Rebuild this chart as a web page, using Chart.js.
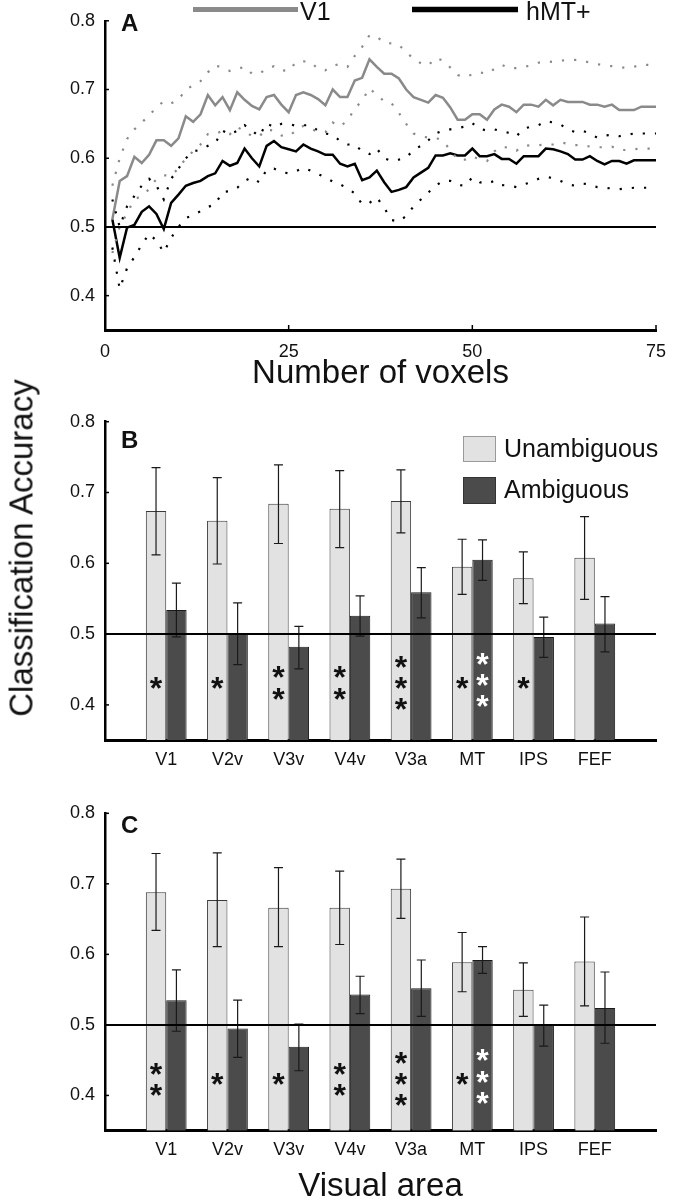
<!DOCTYPE html>
<html><head><meta charset="utf-8">
<script src="https://cdn.jsdelivr.net/npm/chart.js@4.4.1/dist/chart.umd.min.js"></script>
<style>
html,body{margin:0;padding:0;background:#fff;}
body{width:682px;height:1200px;position:relative;overflow:hidden;font-family:"Liberation Sans",Arial,sans-serif;}
canvas{position:absolute;left:0;}
#ytitle{position:absolute;left:21px;top:548px;transform:translate(-50%,-50%) rotate(-90deg);font-size:33px;white-space:nowrap;color:#111;line-height:1;}
</style></head><body>
<canvas id="ca" width="682" height="400" style="top:0px"></canvas>
<canvas id="cb" width="682" height="380" style="top:400px"></canvas>
<canvas id="cc" width="682" height="430" style="top:780px"></canvas>
<div id="ytitle">Classification Accuracy</div>
<script>
// ---------- Panel A data ----------
const voxels = [1,2,3,4,5,6,7,8,9,10,11,12,13,14,15,16,17,18,19,20,21,22,23,24,25,26,27,28,29,30,31,32,33,34,35,36,37,38,39,40,41,42,43,44,45,46,47,48,49,50,51,52,53,54,55,56,57,58,59,60,61,62,63,64,65,66,67,68,69,70,71,72,73,74,75];
const v1Mean = [0.511,0.567,0.574,0.602,0.593,0.605,0.626,0.626,0.618,0.629,
 0.661,0.653,0.664,0.692,0.677,0.689,0.670,0.696,0.685,0.676,
 0.671,0.689,0.692,0.678,0.667,0.692,0.696,0.692,0.686,0.677,
 0.700,0.689,0.689,0.713,0.717,0.744,0.733,0.723,0.723,0.716,
 0.700,0.689,0.685,0.681,0.692,0.688,0.674,0.656,0.656,0.664,
 0.664,0.656,0.671,0.678,0.675,0.667,0.678,0.678,0.675,0.685,
 0.677,0.685,0.682,0.682,0.682,0.678,0.678,0.675,0.678,0.670,
 0.670,0.670,0.675,0.675,0.675];
const v1Upper = [0.560,0.600,0.628,0.642,0.652,0.662,0.674,0.683,0.680,0.685,
 0.700,0.706,0.712,0.725,0.735,0.732,0.727,0.730,0.733,0.723,
 0.723,0.730,0.734,0.728,0.727,0.740,0.741,0.740,0.730,0.728,
 0.735,0.737,0.733,0.749,0.762,0.779,0.777,0.768,0.767,0.765,
 0.754,0.745,0.738,0.735,0.746,0.742,0.732,0.721,0.718,0.722,
 0.725,0.723,0.730,0.736,0.731,0.731,0.733,0.735,0.739,0.741,
 0.740,0.742,0.743,0.743,0.742,0.739,0.737,0.735,0.734,0.733,
 0.731,0.733,0.736,0.736,0.736];
const v1Lower = [0.462,0.500,0.520,0.540,0.545,0.555,0.570,0.575,0.575,0.585,
 0.600,0.610,0.620,0.635,0.635,0.640,0.635,0.645,0.640,0.632,
 0.632,0.642,0.640,0.633,0.632,0.640,0.647,0.643,0.638,0.638,
 0.652,0.646,0.655,0.672,0.684,0.702,0.692,0.683,0.680,0.666,
 0.650,0.636,0.632,0.630,0.630,0.625,0.612,0.598,0.598,0.603,
 0.598,0.596,0.610,0.617,0.615,0.611,0.618,0.619,0.619,0.620,
 0.620,0.623,0.621,0.619,0.619,0.617,0.616,0.616,0.617,0.612,
 0.612,0.613,0.614,0.614,0.614];
const mtMean = [0.511,0.455,0.499,0.503,0.522,0.530,0.519,0.497,0.535,0.547,
 0.560,0.564,0.567,0.574,0.578,0.596,0.589,0.593,0.614,0.600,
 0.588,0.618,0.625,0.616,0.613,0.610,0.620,0.614,0.610,0.605,
 0.605,0.592,0.588,0.592,0.568,0.572,0.582,0.565,0.551,0.554,
 0.558,0.572,0.579,0.586,0.604,0.604,0.607,0.604,0.604,0.614,
 0.603,0.603,0.606,0.599,0.599,0.592,0.603,0.603,0.603,0.614,
 0.613,0.610,0.606,0.598,0.598,0.603,0.596,0.591,0.596,0.596,
 0.592,0.597,0.597,0.597,0.597];
const mtUpper = [0.540,0.500,0.530,0.545,0.560,0.570,0.560,0.540,0.570,0.585,
 0.600,0.610,0.612,0.618,0.622,0.640,0.635,0.640,0.648,0.640,
 0.632,0.651,0.645,0.650,0.650,0.647,0.648,0.648,0.640,0.636,
 0.634,0.625,0.620,0.620,0.610,0.606,0.614,0.600,0.596,0.598,
 0.601,0.612,0.618,0.626,0.636,0.640,0.642,0.644,0.646,0.651,
 0.643,0.640,0.642,0.639,0.637,0.632,0.643,0.646,0.648,0.654,
 0.652,0.649,0.642,0.638,0.640,0.636,0.630,0.633,0.634,0.632,
 0.634,0.636,0.636,0.636,0.636];
const mtLower = [0.470,0.410,0.440,0.456,0.474,0.490,0.480,0.463,0.484,0.500,
 0.513,0.517,0.523,0.529,0.533,0.551,0.552,0.557,0.567,0.572,
 0.565,0.583,0.585,0.580,0.578,0.581,0.586,0.582,0.577,0.572,
 0.566,0.562,0.556,0.549,0.533,0.535,0.543,0.528,0.510,0.508,
 0.516,0.530,0.540,0.550,0.560,0.567,0.567,0.561,0.560,0.572,
 0.565,0.563,0.567,0.561,0.560,0.558,0.562,0.565,0.570,0.573,
 0.571,0.567,0.562,0.560,0.563,0.562,0.558,0.557,0.556,0.555,
 0.556,0.557,0.557,0.557,0.557];
const xTicksA = [0, 25, 50, 75];
const yTicks = [0.4, 0.5, 0.6, 0.7, 0.8];
const chanceLevel = 0.5;

// ---------- Panels B & C data ----------
const areas = ['V1','V2v','V3v','V4v','V3a','MT','IPS','FEF'];
const unambB   = [0.674,0.660,0.684,0.677,0.688,0.595,0.579,0.608];
const unambBHi = [0.735,0.721,0.739,0.731,0.732,0.634,0.616,0.666];
const unambBLo = [0.612,0.599,0.628,0.622,0.643,0.556,0.543,0.549];
const ambB     = [0.534,0.501,0.482,0.526,0.559,0.605,0.496,0.515];
const ambBHi   = [0.572,0.544,0.511,0.554,0.594,0.633,0.524,0.553];
const ambBLo   = [0.496,0.457,0.451,0.497,0.523,0.576,0.467,0.475];
const starsUnambB = [1,1,2,2,3,1,1,0];
const starsAmbB   = [0,0,0,0,0,3,0,0];

const unambC   = [0.688,0.677,0.666,0.666,0.693,0.589,0.550,0.590];
const unambCHi = [0.743,0.744,0.723,0.718,0.735,0.631,0.588,0.653];
const unambCLo = [0.634,0.611,0.611,0.614,0.651,0.547,0.512,0.527];
const ambC     = [0.535,0.495,0.469,0.543,0.552,0.592,0.500,0.524];
const ambCHi   = [0.578,0.535,0.501,0.569,0.592,0.611,0.528,0.575];
const ambCLo   = [0.491,0.454,0.435,0.516,0.512,0.573,0.470,0.474];
const starsUnambC = [2,1,1,2,3,1,0,0];
const starsAmbC   = [0,0,0,0,0,3,0,0];

// ---------- styling ----------
const FONT = '"Liberation Sans", Arial, sans-serif';
Chart.defaults.font.family = FONT;
Chart.defaults.color = '#111';
const GRAY = '#8a8a8a';
const LIGHT = '#e2e2e2';
const DARK = '#4b4b4b';
const TICK_SIZE = 18;

function pairs(xs, ys){ return xs.map((x,i)=>({x:x, y:ys[i]})); }
function padded(arr){ return [null].concat(arr, [null]); }

function yScale(width){
  return {
    min:0.35, max:0.8,
    afterBuildTicks:s=>{ s.ticks = yTicks.map(v=>({value:v})); },
    afterFit:s=>{ s.width = width; },
    grid:{display:false, drawTicks:false, tickLength:0},
    border:{display:true, color:'#000', width:2.5},
    ticks:{padding:10, font:{size:TICK_SIZE}, color:'#111', callback:v=>Number(v).toFixed(1)}
  };
}

function axisDecor(opts){
  return {
    id:'axisDecor',
    afterDraw(chart){
      const ctx = chart.ctx, a = chart.chartArea, ys = chart.scales.y, xs = chart.scales.x;
      ctx.save();
      ctx.strokeStyle = '#000'; ctx.lineWidth = 2;
      const yr = ys.getPixelForValue(chanceLevel);
      ctx.beginPath(); ctx.moveTo(a.left, yr); ctx.lineTo(a.right, yr); ctx.stroke();
      ctx.lineWidth = 1.5;
      yTicks.forEach(v=>{ const y = ys.getPixelForValue(v); ctx.beginPath(); ctx.moveTo(a.left, y); ctx.lineTo(a.left+4, y); ctx.stroke(); });
      if (opts.xTicks){
        opts.xTicks.forEach(v=>{ if (v===0) return; const x = xs.getPixelForValue(v); ctx.beginPath(); ctx.moveTo(x, a.bottom); ctx.lineTo(x, a.bottom-5); ctx.stroke(); });
      }
      ctx.fillStyle = '#111'; ctx.font = 'bold 24px ' + FONT; ctx.textBaseline = 'alphabetic'; ctx.textAlign = 'left';
      ctx.fillText(opts.letter, opts.letterX, opts.letterY);
      if (opts.lineLegend){
        opts.lineLegend.forEach(it=>{
          const ds = chart.data.datasets[it.ds];
          ctx.strokeStyle = ds.borderColor; ctx.lineWidth = it.w;
          ctx.beginPath(); ctx.moveTo(it.x0, it.y); ctx.lineTo(it.x1, it.y); ctx.stroke();
          ctx.fillStyle = '#111'; ctx.font = '25px ' + FONT;
          ctx.fillText(ds.label, it.tx, it.ty);
        });
      }
      if (opts.boxLegend){
        opts.boxLegend.forEach(it=>{
          const ds = chart.data.datasets[it.ds];
          ctx.fillStyle = ds.backgroundColor; ctx.fillRect(it.x, it.y, it.w, it.h);
          ctx.strokeStyle = it.stroke; ctx.lineWidth = 1; ctx.strokeRect(it.x+0.5, it.y+0.5, it.w-1, it.h-1);
          ctx.fillStyle = '#111'; ctx.font = '25px ' + FONT; ctx.textBaseline = 'middle';
          ctx.fillText(ds.label, it.tx, it.y + it.h/2 + 1);
        });
      }
      ctx.restore();
    }
  };
}

function barDecor(sets){
  return {
    id:'barDecor',
    afterDatasetsDraw(chart){
      const ctx = chart.ctx, ys = chart.scales.y;
      ctx.save();
      sets.forEach(s=>{
        const meta = chart.getDatasetMeta(s.ds);
        meta.data.forEach((el, i)=>{
          const k = i - 1;
          if (k < 0 || k >= s.hi.length) return;
          const x = el.x;
          const yh = ys.getPixelForValue(s.hi[k]), yl = ys.getPixelForValue(s.lo[k]);
          ctx.strokeStyle = '#1a1a1a'; ctx.lineWidth = 1.2;
          ctx.beginPath();
          ctx.moveTo(x, yh); ctx.lineTo(x, yl);
          ctx.moveTo(x-4.5, yh); ctx.lineTo(x+4.5, yh);
          ctx.moveTo(x-4.5, yl); ctx.lineTo(x+4.5, yl);
          ctx.stroke();
          const n = s.stars[k];
          const fs = 32;
          ctx.fillStyle = s.starColor; ctx.font = 'bold ' + fs + 'px ' + FONT;
          ctx.textAlign = 'center'; ctx.textBaseline = 'alphabetic';
          for (let j = 0; j < n; j++){
            const v = s.starCenter + ((n-1)/2 - j) * s.starStep;
            const yc = ys.getPixelForValue(v);
            ctx.fillText('*', x, yc + fs*0.57);
          }
        });
      });
      ctx.restore();
    }
  };
}

// ---------- Panel A ----------
new Chart(document.getElementById('ca'), {
  type:'line',
  data:{datasets:[
    {label:'V1 upper', data:pairs(voxels, v1Upper), borderColor:GRAY, borderWidth:2.2, borderDash:[2.2,10], pointRadius:0, tension:0},
    {label:'V1 lower', data:pairs(voxels, v1Lower), borderColor:GRAY, borderWidth:2.2, borderDash:[2.2,10], pointRadius:0, tension:0},
    {label:'hMT+ upper', data:pairs(voxels, mtUpper), borderColor:'#000', borderWidth:2.2, borderDash:[2.2,10], pointRadius:0, tension:0},
    {label:'hMT+ lower', data:pairs(voxels, mtLower), borderColor:'#000', borderWidth:2.2, borderDash:[2.2,10], pointRadius:0, tension:0},
    {label:'V1', data:pairs(voxels, v1Mean), borderColor:GRAY, borderWidth:2.5, pointRadius:0, tension:0},
    {label:'hMT+', data:pairs(voxels, mtMean), borderColor:'#000', borderWidth:2.5, pointRadius:0, tension:0}
  ]},
  options:{
    responsive:false, animation:false, devicePixelRatio:1,
    layout:{padding:{left:0, right:26, top:13, bottom:0}},
    plugins:{legend:{display:false}, tooltip:{enabled:false}},
    scales:{
      x:{type:'linear', min:0, max:75,
         afterBuildTicks:s=>{ s.ticks = xTicksA.map(v=>({value:v})); },
         afterFit:s=>{ s.height = 70; },
         grid:{display:false, drawTicks:false, tickLength:0},
         border:{display:true, color:'#000', width:3},
         ticks:{padding:11, font:{size:TICK_SIZE}, color:'#111', maxRotation:0},
         title:{display:true, text:'Number of voxels', font:{size:33, lineHeight:1}, padding:{top:0, bottom:9.5}, color:'#111'}},
      y:yScale(105)
    }
  },
  plugins:[axisDecor({letter:'A', letterX:121, letterY:31, xTicks:xTicksA,
    lineLegend:[{ds:4, x0:193, x1:298, y:9.5, w:5, tx:300, ty:20},{ds:5, x0:412, x1:518, y:9.5, w:5.5, tx:526, ty:20}]})]
});

// ---------- Bar panels ----------
function barChart(id, unamb, ambv, uHi, uLo, aHi, aLo, sU, sA, starCenter, padTop, xH, letterY, withLegend, withTitle){
  const labels = [''].concat(areas, ['']);
  const opts = {letter: id==='cb' ? 'B' : 'C', letterX:121, letterY:letterY};
  if (withLegend) opts.boxLegend = [
    {ds:0, x:463, y:36, w:33, h:26, tx:504, stroke:'#9a9a9a'},
    {ds:1, x:463, y:77, w:33, h:27, tx:504, stroke:'#333'}];
  new Chart(document.getElementById(id), {
    type:'bar',
    data:{labels:labels, datasets:[
      {label:'Unambiguous', data:padded(unamb), backgroundColor:LIGHT, borderColor:'#3a3a3a', borderWidth:1, base:0.35,
       categoryPercentage:0.666, barPercentage:1.0},
      {label:'Ambiguous', data:padded(ambv), backgroundColor:DARK, borderColor:'#1a1a1a', borderWidth:1, base:0.35,
       categoryPercentage:0.666, barPercentage:1.0}
    ]},
    options:{
      responsive:false, animation:false, devicePixelRatio:1,
      layout:{padding:{left:0, right:26, top:padTop, bottom:0}},
      plugins:{legend:{display:false}, tooltip:{enabled:false}},
      scales:{
        x:{type:'category', offset:false,
           afterFit:s=>{ s.height = xH; },
           grid:{display:false, drawTicks:false, tickLength:0},
           border:{display:true, color:'#000', width:3},
           ticks:{padding:9, font:{size:TICK_SIZE}, color:'#111', autoSkip:false, maxRotation:0},
           title: withTitle ? {display:true, text:'Visual area', font:{size:33, lineHeight:1}, padding:{top:0, bottom:6.5}, color:'#111'} : {display:false}},
        y:yScale(105)
      }
    },
    plugins:[
      barDecor([
        {ds:0, hi:uHi, lo:uLo, stars:sU, starColor:'#111', starCenter:starCenter, starStep:0.03},
        {ds:1, hi:aHi, lo:aLo, stars:sA, starColor:'#fff', starCenter:starCenter+0.004, starStep:0.03}
      ]),
      axisDecor(opts)
    ]
  });
}
barChart('cb', unambB, ambB, unambBHi, unambBLo, ambBHi, ambBLo, starsUnambB, starsAmbB, 0.434, 21.7, 39.7, 47.5, true, false);
barChart('cc', unambC, ambC, unambCHi, unambCLo, ambCHi, ambCLo, starsUnambC, starsAmbC, 0.426, 33.3, 79.3, 52.5, false, true);
</script>
</body></html>
